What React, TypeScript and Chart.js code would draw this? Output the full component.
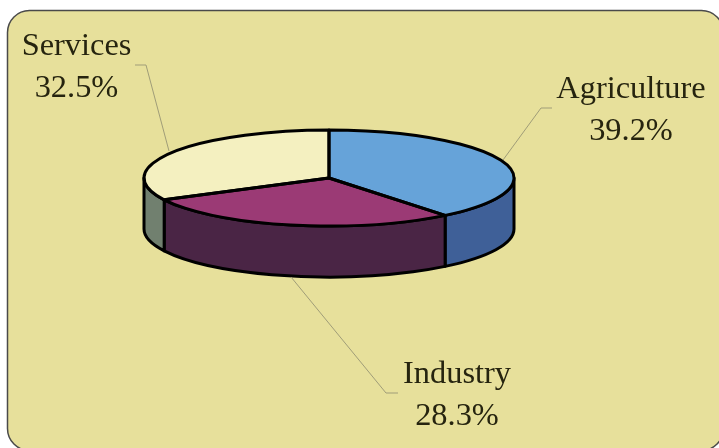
import React, { useEffect, useRef } from "react";
import { Chart, registerables } from "chart.js";

Chart.register(...registerables);

const categories = ["Agriculture", "Industry", "Services"];
const shares = [39.2, 28.3, 32.5];
const topColors = ["#66a3d9", "#9b3a75", "#f4f0c0"];
const sideColors = ["#3f6098", "#4a2545", "#71806f"];

const PANEL = "#e7e09b";
const SQUASH = 48 / 185;
const DEPTH = 51;
const FONT = '32.4px "Liberation Serif"';
const TEXT = "#26240f";

const labelPlaces = [
  { x: 631, y: 98, leader: [[552, 108], [541, 108], [503, 160]] },
  { x: 457, y: 383, leader: [[398, 393], [386, 393], [291, 277]] },
  { x: 76.5, y: 55, leader: [[135, 65], [146, 65], [169, 151]] },
];

const pie3d = {
  id: "pie3d",
  beforeDraw(chart: any) {
    const { ctx } = chart;
    ctx.save();
    ctx.beginPath();
    ctx.roundRect(7.5, 10.5, 716, 440, 22);
    ctx.fillStyle = PANEL;
    ctx.fill();
    ctx.strokeStyle = "#4a4a4a";
    ctx.lineWidth = 1.5;
    ctx.stroke();
    ctx.restore();
  },
  beforeDatasetsDraw(chart: any) {
    const { ctx } = chart;
    const arcs = chart.getDatasetMeta(0).data;
    const { x: cx, y: cy, outerRadius: r } = arcs[0];
    const ry = r * SQUASH;
    ctx.save();
    ctx.lineJoin = "round";
    ctx.lineWidth = 3;
    ctx.strokeStyle = "#000";
    arcs.forEach((arc: any, i: number) => {
      // Only the part of the rim facing the viewer: canvas angles 0..PI
      const ranges = [
        [arc.startAngle, arc.endAngle],
        [arc.startAngle - 2 * Math.PI, arc.endAngle - 2 * Math.PI],
      ];
      ranges.forEach(([a0, b0]) => {
        const a = Math.max(a0, 0);
        const b = Math.min(b0, Math.PI);
        if (b <= a) return;
        ctx.beginPath();
        ctx.ellipse(cx, cy, r, ry, 0, a, b);
        ctx.ellipse(cx, cy + DEPTH, r, ry, 0, b, a, true);
        ctx.closePath();
        ctx.fillStyle = sideColors[i];
        ctx.fill();
        ctx.stroke();
      });
    });
    ctx.restore();
    ctx.save();
    ctx.translate(cx, cy);
    ctx.scale(1, SQUASH);
    ctx.translate(-cx, -cy);
  },
  afterDatasetsDraw(chart: any) {
    const { ctx } = chart;
    ctx.restore();
    const arcs = chart.getDatasetMeta(0).data;
    const { x: cx, y: cy, outerRadius: r } = arcs[0];
    const ry = r * SQUASH;
    ctx.save();
    ctx.lineJoin = "round";
    ctx.lineWidth = 3;
    ctx.strokeStyle = "#000";
    arcs.forEach((arc: any) => {
      ctx.beginPath();
      ctx.moveTo(cx, cy);
      ctx.ellipse(cx, cy, r, ry, 0, arc.startAngle, arc.endAngle);
      ctx.closePath();
      ctx.stroke();
    });
    // Labels and leader lines
    ctx.font = FONT;
    ctx.textAlign = "center";
    ctx.textBaseline = "alphabetic";
    categories.forEach((name, i) => {
      const place = labelPlaces[i];
      ctx.fillStyle = TEXT;
      ctx.fillText(name, place.x, place.y);
      ctx.fillText(shares[i].toFixed(1) + "%", place.x, place.y + 41.5);
      ctx.beginPath();
      place.leader.forEach(([x, y], k) =>
        k === 0 ? ctx.moveTo(x, y) : ctx.lineTo(x, y)
      );
      ctx.strokeStyle = "#a09d78";
      ctx.lineWidth = 1;
      ctx.stroke();
    });
    ctx.restore();
  },
};

export default function App() {
  const ref = useRef<HTMLCanvasElement>(null);
  useEffect(() => {
    const chart = new Chart(ref.current!, {
      type: "pie",
      data: {
        labels: categories,
        datasets: [
          {
            data: shares,
            backgroundColor: topColors,
            borderWidth: 0,
            clip: false,
            radius: 185,
          } as any,
        ],
      },
      options: {
        responsive: false,
        animation: false,
        layout: { padding: { left: 0, right: 61, top: 0, bottom: 92 } },
        plugins: { legend: { display: false }, tooltip: { enabled: false } },
      },
      plugins: [pie3d],
    });
    return () => chart.destroy();
  }, []);
  return (
    <div style={{ position: "absolute", left: 0, top: 0, width: 719, height: 448, overflow: "hidden", background: "#fff" }}>
      <canvas ref={ref} width={719} height={448} style={{ display: "block" }} />
    </div>
  );
}
